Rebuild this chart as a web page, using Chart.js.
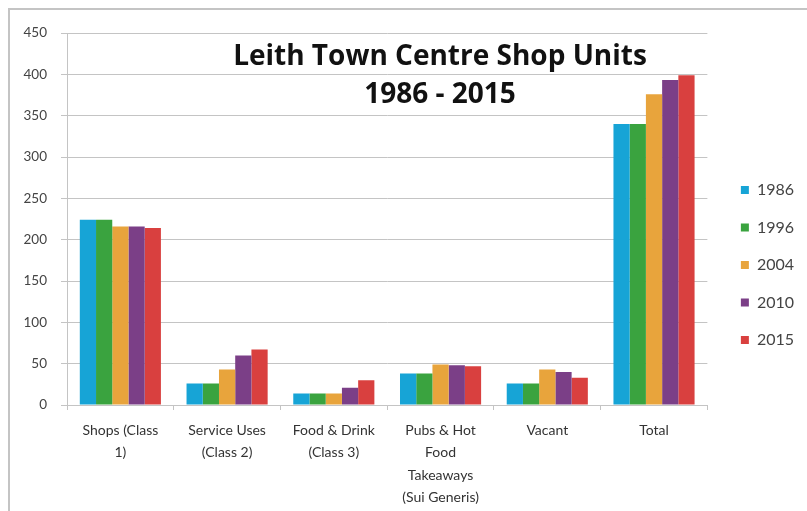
<!DOCTYPE html>
<html>
<head>
<meta charset="utf-8">
<script src="https://cdn.jsdelivr.net/npm/chart.js@4"></script>
<style>
html,body{margin:0;padding:0;background:#fff;}
#wrap{width:807px;height:511px;position:relative;}
</style>
</head>
<body>
<div id="wrap"><canvas id="c" width="807" height="511"></canvas></div>
<script>
const categories = [
  ["Shops (Class", "1)"],
  ["Service Uses", "(Class 2)"],
  ["Food & Drink", "(Class 3)"],
  ["Pubs & Hot", "Food", "Takeaways", "(Sui Generis)"],
  "Vacant",
  "Total"
];
const seriesNames = ["1986", "1996", "2004", "2010", "2015"];
const values1986 = [224, 26, 14, 38, 26, 340];
const values1996 = [224, 26, 14, 38, 26, 340];
const values2004 = [216, 43, 14, 49, 43, 376];
const values2010 = [216, 60, 21, 48, 40, 393];
const values2015 = [214, 67, 30, 47, 33, 399];
const yTicks = [0, 50, 100, 150, 200, 250, 300, 350, 400, 450];
const titleLines = ["Leith Town Centre Shop Units", "1986 - 2015"];

const colors = ["#17a4d6", "#3aa33f", "#e8a43c", "#7b3f87", "#d9403f"];
const allValues = [values1986, values1996, values2004, values2010, values2015];

const frame = {
  id: 'frame',
  beforeDraw(chart) {
    const ctx = chart.ctx;
    ctx.save();
    ctx.fillStyle = '#fff';
    ctx.fillRect(0, 0, chart.width, chart.height);
    ctx.strokeStyle = '#c4c4c4';
    ctx.lineWidth = 2;
    ctx.beginPath();
    ctx.moveTo(9, chart.height);
    ctx.lineTo(9, 9);
    ctx.lineTo(chart.width, 9);
    ctx.stroke();
    ctx.restore();
  }
};

const titlePlugin = {
  id: 'innerTitle',
  afterDatasetsDraw(chart) {
    const ctx = chart.ctx;
    ctx.save();
    ctx.fillStyle = '#111';
    ctx.font = 'bold 28px "Open Sans"';
    ctx.textAlign = 'center';
    ctx.textBaseline = 'middle';
    ctx.fillText(titleLines[0], 440, 57);
    ctx.fillText(titleLines[1], 440, 95);
    ctx.restore();
  }
};

new Chart(document.getElementById('c'), {
  type: 'bar',
  data: {
    labels: categories,
    datasets: seriesNames.map((n, i) => ({
      label: n,
      data: allValues[i],
      backgroundColor: colors[i],
      borderWidth: 0,
      barPercentage: 1.0,
      categoryPercentage: 0.76
    }))
  },
  options: {
    responsive: false,
    animation: false,
    devicePixelRatio: 1,
    layout: { padding: { left: 10, top: 33, right: 3, bottom: 0 } },
    plugins: {
      title: { display: false },
      tooltip: { enabled: false },
      legend: {
        position: 'right',
        align: 'start',
        title: { display: true, text: '', font: { size: 12 }, padding: { top: 0, bottom: 113 } },
        labels: {
          boxWidth: 8,
          boxHeight: 8,
          padding: 21.5,
          color: '#444',
          font: { family: 'Lato', size: 16 }
        }
      }
    },
    scales: {
      x: {
        grid: { drawOnChartArea: false, offset: true, tickLength: 5, color: '#c4c4c4' },
        border: { color: '#c4c4c4' },
        ticks: {
          color: '#333',
          font: { family: 'Lato', size: 14, lineHeight: 1.6 },
          maxRotation: 0,
          autoSkip: false,
          padding: 9
        },
        afterFit: s => { s.height = 106; }
      },
      y: {
        min: 0,
        max: 450,
        afterBuildTicks: s => { s.ticks = yTicks.map(v => ({ value: v })); },
        grid: { color: '#c4c4c4', tickLength: 6 },
        border: { color: '#c4c4c4' },
        ticks: {
          color: '#444',
          font: { family: 'Lato', size: 13.5 },
          padding: 14
        },
        afterFit: s => { s.width = 57; }
      },
      gap: {
        type: 'linear',
        position: 'right',
        display: true,
        grid: { display: false },
        border: { display: false },
        ticks: { display: false },
        afterFit: s => { s.width = 12; }
      }
    }
  },
  plugins: [frame, titlePlugin]
});
</script>
</body>
</html>
